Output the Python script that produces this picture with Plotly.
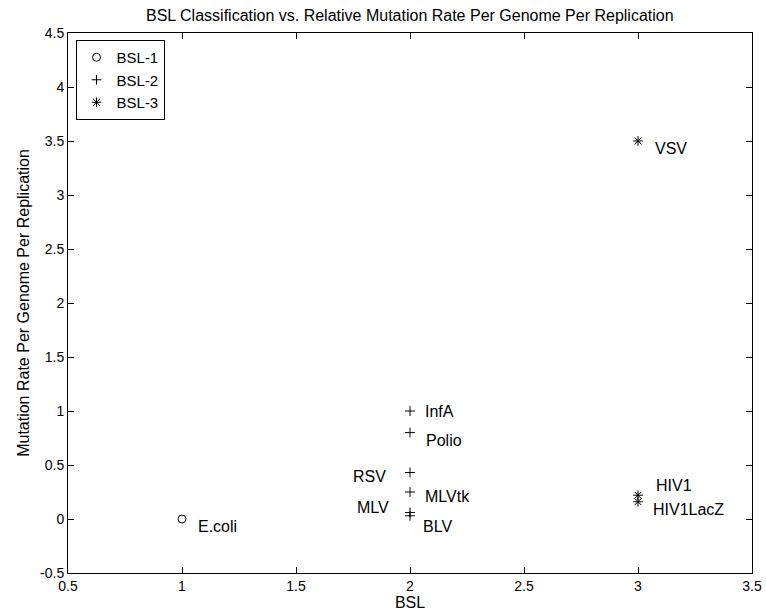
import plotly.graph_objects as go

# Biosafety level of each organism and its relative mutation rate
bsl1_names = ["E.coli"]
bsl1_level = [1]
bsl1_rate = [0.0]

bsl2_names = ["InfA", "Polio", "RSV", "MLVtk", "MLV", "BLV"]
bsl2_level = [2, 2, 2, 2, 2, 2]
bsl2_rate = [1.0, 0.8, 0.43, 0.25, 0.06, 0.03]

bsl3_names = ["VSV", "HIV1", "HIV1LacZ"]
bsl3_level = [3, 3, 3]
bsl3_rate = [3.5, 0.22, 0.16]

x_ticks = [0.5, 1, 1.5, 2, 2.5, 3, 3.5]
x_tick_text = ["0.5", "1", "1.5", "2", "2.5", "3", "3.5"]
y_ticks = [-0.5, 0, 0.5, 1, 1.5, 2, 2.5, 3, 3.5, 4, 4.5]
y_tick_text = ["-0.5", "0", "0.5", "1", "1.5", "2", "2.5", "3", "3.5", "4", "4.5"]

# Where each point label sits relative to its marker (pixels, anchor side)
label_place = {
    "E.coli": (14, -7, "left"),
    "InfA": (13, 0, "left"),
    "Polio": (14, -8, "left"),
    "RSV": (-22, -4, "right"),
    "MLVtk": (13, -4, "left"),
    "MLV": (-19, 5, "right"),
    "BLV": (11, -11, "left"),
    "VSV": (15, -7, "left"),
    "HIV1": (16, 10, "left"),
    "HIV1LacZ": (13, -8, "left"),
}

FONT = "Liberation Sans, Arial, Helvetica, sans-serif"

fig = go.Figure()
series = [
    ("BSL-1", bsl1_level, bsl1_rate, bsl1_names, "circle-open", 8),
    ("BSL-2", bsl2_level, bsl2_rate, bsl2_names, "cross-thin-open", 7),
    ("BSL-3", bsl3_level, bsl3_rate, bsl3_names, "asterisk-open", 8),
]
for name, xs, ys, labels, symbol, size in series:
    fig.add_trace(go.Scatter(
        x=xs, y=ys, mode="markers", name=name,
        marker=dict(symbol=symbol, size=size, color="black",
                    line=dict(color="black", width=1)),
    ))
    for lx, ly, lab in zip(xs, ys, labels):
        dx, dy, side = label_place[lab]
        fig.add_annotation(
            x=lx, y=ly, xref="x", yref="y", text=lab, showarrow=False,
            xanchor=side, yanchor="middle", xshift=dx, yshift=dy,
            font=dict(family=FONT, size=16, color="black"),
        )

axis_common = dict(
    showgrid=False, zeroline=False, showline=True, linecolor="black",
    linewidth=1, mirror="ticks", ticks="inside", ticklen=6,
    tickcolor="black", tickwidth=1,
    tickfont=dict(family=FONT, size=14, color="black"),
)

fig.update_layout(
    width=766, height=615,
    margin=dict(l=68, r=14, t=33, b=42, autoexpand=False),
    paper_bgcolor="white", plot_bgcolor="white",
    font=dict(family=FONT, size=14, color="black"),
    title=dict(
        text="BSL Classification vs. Relative Mutation Rate Per Genome Per Replication",
        x=0.535, xanchor="center", y=1 - 15 / 615, yanchor="middle",
        yref="container", font=dict(family=FONT, size=16, color="black"),
    ),
    xaxis=dict(range=[0.5, 3.5], tickvals=x_ticks, ticktext=x_tick_text,
               title=dict(text="BSL", standoff=0,
                          font=dict(family=FONT, size=16, color="black")),
               **axis_common),
    yaxis=dict(range=[-0.5, 4.5], tickvals=y_ticks, ticktext=y_tick_text,
               title=dict(text="Mutation Rate Per Genome Per Replication",
                          standoff=6,
                          font=dict(family=FONT, size=16, color="black")),
               **axis_common),
    legend=dict(
        x=0.011, y=0.987, xanchor="left", yanchor="top",
        bordercolor="black", borderwidth=1, bgcolor="white",
        font=dict(family=FONT, size=15, color="black"),
        tracegroupgap=0, itemwidth=30,
    ),
    showlegend=True,
)

fig.write_html("out.html")
